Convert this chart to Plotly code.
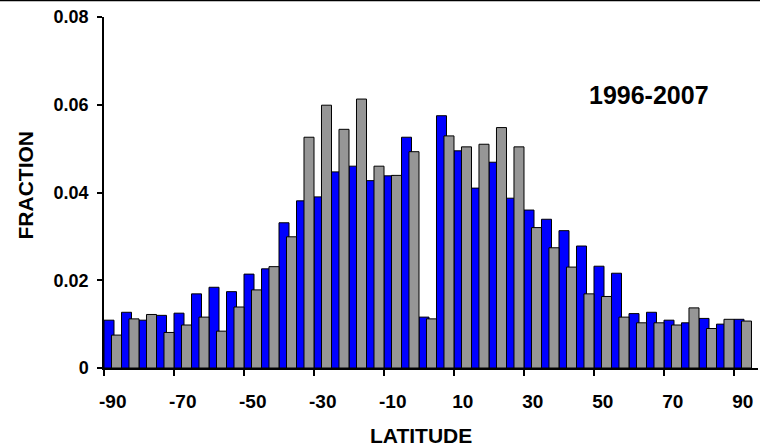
import plotly.graph_objects as go

latitude = [-90, -85, -80, -75, -70, -65, -60, -55, -50, -45, -40, -35, -30,
            -25, -20, -15, -10, -5, 0, 5, 10, 15, 20, 25, 30,
            35, 40, 45, 50, 55, 60, 65, 70, 75, 80, 85, 90]
blue_values = [0.0109, 0.0127, 0.0109, 0.0120, 0.0125, 0.0169, 0.0184, 0.0174, 0.0214, 0.0226, 0.0331, 0.0381, 0.0390,
               0.0447, 0.0460, 0.0427, 0.0438, 0.0526, 0.0116, 0.0575, 0.0495, 0.0410, 0.0469, 0.0387, 0.0360,
               0.0339, 0.0313, 0.0278, 0.0232, 0.0216, 0.0124, 0.0127, 0.0109, 0.0103, 0.0113, 0.0100, 0.0111]
gray_values = [0.0075, 0.0112, 0.0122, 0.0081, 0.0098, 0.0116, 0.0084, 0.0139, 0.0178, 0.0231, 0.0299, 0.0526, 0.0599,
               0.0544, 0.0613, 0.0460, 0.0439, 0.0493, 0.0112, 0.0529, 0.0504, 0.0510, 0.0548, 0.0504, 0.0320,
               0.0274, 0.0230, 0.0169, 0.0163, 0.0116, 0.0103, 0.0103, 0.0098, 0.0137, 0.0090, 0.0111, 0.0107]
tick_labels = ["-90", "-70", "-50", "-30", "-10", "10", "30", "50", "70", "90"]
tick_positions = [-90, -70, -50, -30, -10, 10, 30, 50, 70, 90]
period_label = "1996-2007"

FONT = "Liberation Sans, Arial, sans-serif"

fig = go.Figure()
fig.add_trace(go.Bar(
    x=latitude, y=blue_values, offset=-2.5, width=2.86,
    marker=dict(color="#0000FF", line=dict(color="#000000", width=1)),
    showlegend=False, name="blue"))
fig.add_trace(go.Bar(
    x=latitude, y=gray_values, offset=-0.36, width=2.86,
    marker=dict(color="#969696", line=dict(color="#000000", width=1)),
    showlegend=False, name="gray"))

fig.update_layout(
    width=760, height=448,
    margin=dict(l=104, r=2, t=17, b=80),
    paper_bgcolor="white", plot_bgcolor="white",
    barmode="overlay",
    font=dict(family=FONT, color="black", size=18, weight="bold"),
    xaxis=dict(
        range=[-92.5, 94.36],
        tickmode="array", tickvals=tick_positions, ticktext=tick_labels,
        ticks="", showgrid=False, zeroline=False,
        showline=True, linecolor="black", linewidth=1.5,
        ticklabelstandoff=15,
        tickfont=dict(family=FONT, size=19, color="black", weight="bold"),
        minor=dict(tickmode="linear", tick0=-92.5, dtick=20, ticks="outside",
                   ticklen=6, tickwidth=1.5, tickcolor="black", showgrid=False),
    ),
    yaxis=dict(
        range=[0, 0.08], tickmode="linear", tick0=0, dtick=0.02,
        ticks="outside", ticklen=5, tickwidth=1.5, tickcolor="black",
        showgrid=False, zeroline=False,
        showline=True, linecolor="black", linewidth=1.5,
        ticklabelstandoff=5,
        tickfont=dict(family=FONT, size=18, color="black", weight="bold"),
    ),
    annotations=[
        dict(text=period_label, xref="paper", yref="paper",
             x=(648.7 - 104) / 654, y=(368 - 95) / 351,
             xanchor="center", yanchor="middle", showarrow=False,
             font=dict(family=FONT, size=25, color="black", weight="bold")),
        dict(text="LATITUDE", xref="paper", yref="paper",
             x=(421 - 104) / 654, y=(368 - 435.5) / 351,
             xanchor="center", yanchor="middle", showarrow=False,
             font=dict(family=FONT, size=21, color="black", weight="bold")),
        dict(text="FRACTION", xref="paper", yref="paper",
             x=(24.5 - 104) / 654, y=(368 - 185) / 351,
             xanchor="center", yanchor="middle", showarrow=False, textangle=-90,
             font=dict(family=FONT, size=21, color="black", weight="bold")),
    ],
    shapes=[
        dict(type="line", xref="paper", yref="paper",
             x0=-104 / 654, x1=1 + 2 / 654, y0=(368 - 0.5) / 351, y1=(368 - 0.5) / 351,
             line=dict(color="black", width=1.5)),
    ],
)

fig.write_html("out.html")
